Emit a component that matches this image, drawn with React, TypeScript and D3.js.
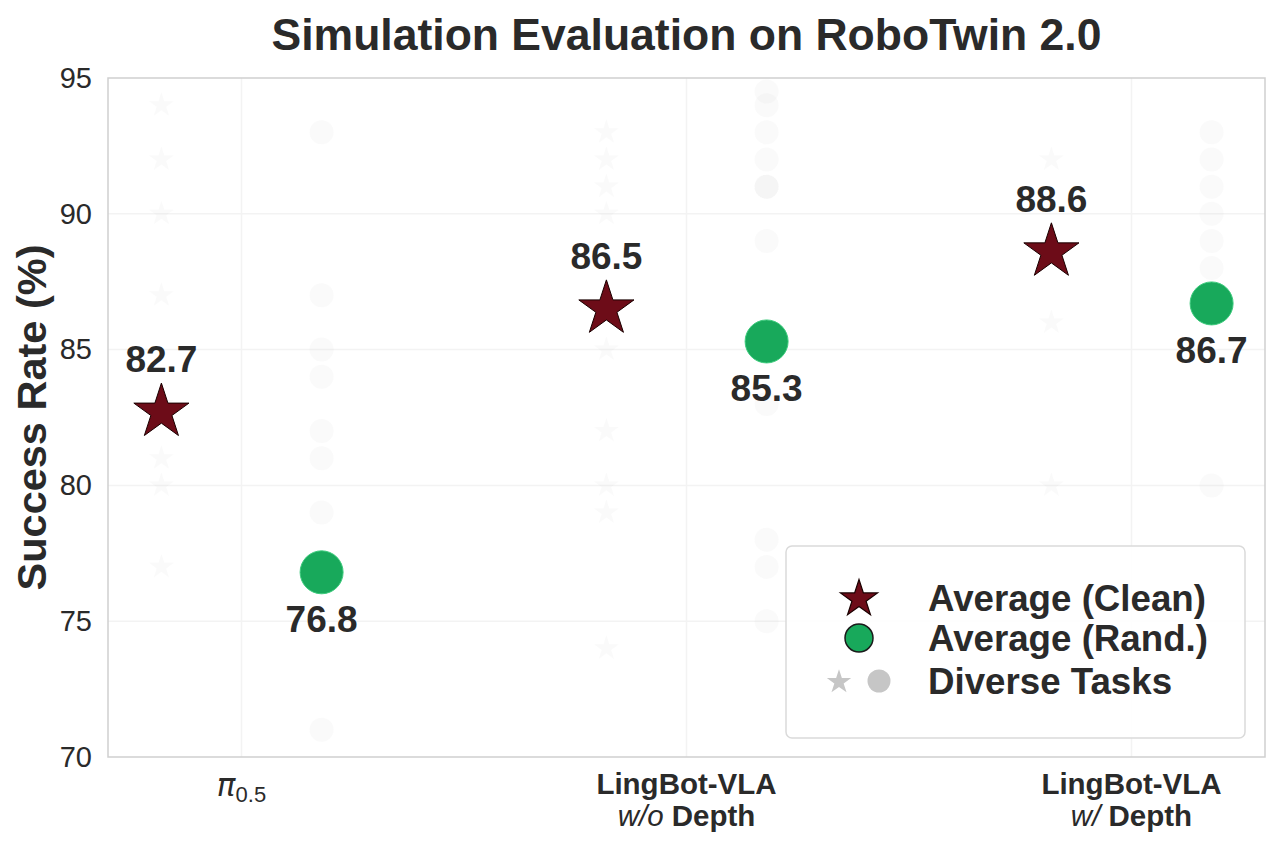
import { useRef, useEffect } from "react";
import * as d3 from "d3";

// averages per method
const methods = ["pi05", "woDepth", "wDepth"];
const cleanAvg = [82.7, 86.5, 88.6];
const randAvg = [76.8, 85.3, 86.7];

// faint per-task points (approximate)
const cleanTasks = [
    [94, 92, 90, 87, 83, 81, 80, 77],
    [93, 92, 91, 90, 85, 82, 80, 79, 74],
    [92, 86, 80],
];
const randTasks = [
    [93, 87, 85, 84, 82, 81, 79, 71],
    [94.5, 94, 93, 92, 91, 91, 89, 83, 78, 77, 75],
    [93, 92, 91, 90, 89, 88, 87, 80],
];

const yTicks = [70, 75, 80, 85, 90, 95];
const gridTicks = [75, 80, 85, 90];
const legendLabels = ["Average (Clean)", "Average (Rand.)", "Diverse Tasks"];

const W = 1280;
const H = 853;
const FONT = "'Liberation Sans', Arial, sans-serif";
const TEXT = "#2a2a2a";
const STAR = "#6d0c18";
const GREEN = "#18a95b";

function ScatterChart() {
    const svgRef = useRef<SVGSVGElement>(null);

    useEffect(() => {
        const svg = d3.select(svgRef.current);
        const left = 108, right = 1265, top = 78, bottom = 757;

        const x = d3.scaleLinear().domain([-0.3, 2.3]).range([left, right]);
        const y = d3.scaleLinear().domain([70, 95]).range([bottom, top]);
        const off = 0.18;

        const g = svg.append("g");

        // grid
        g.selectAll("line.hgrid")
            .data(gridTicks)
            .join("line")
            .attr("x1", left).attr("x2", right)
            .attr("y1", d => y(d)).attr("y2", d => y(d))
            .attr("stroke", "#f3f3f3").attr("stroke-width", 1.5);
        g.selectAll("line.vgrid")
            .data(methods)
            .join("line")
            .attr("x1", (_, i) => x(i)).attr("x2", (_, i) => x(i))
            .attr("y1", top).attr("y2", bottom)
            .attr("stroke", "#f3f3f3").attr("stroke-width", 1.5);

        // frame
        g.append("rect")
            .attr("x", left).attr("y", top)
            .attr("width", right - left).attr("height", bottom - top)
            .attr("fill", "none").attr("stroke", "#cfcfcf").attr("stroke-width", 1.5);

        // y axis
        const yAxis = g.append("g")
            .attr("transform", `translate(${left},0)`)
            .call(d3.axisLeft(y).tickValues(yTicks).tickSize(0).tickPadding(16));
        yAxis.select(".domain").remove();
        yAxis.selectAll("text")
            .attr("font-family", FONT).attr("font-size", 29).attr("fill", TEXT);

        const starPath = (r: number) => d3.symbol(d3.symbolStar, (r * r) / 0.8908130915292852)()!;

        // faint diverse-task points
        cleanTasks.forEach((vals, i) => {
            g.selectAll(null)
                .data(vals)
                .join("path")
                .attr("d", starPath(13))
                .attr("transform", d => `translate(${x(i - off)},${y(d)})`)
                .attr("fill", "#bdbdbd").attr("fill-opacity", 0.08);
        });
        randTasks.forEach((vals, i) => {
            g.selectAll(null)
                .data(vals)
                .join("circle")
                .attr("cx", x(i + off)).attr("cy", d => y(d)).attr("r", 12)
                .attr("fill", "#bdbdbd").attr("fill-opacity", 0.08);
        });

        // averages
        g.selectAll("path.avg")
            .data(cleanAvg)
            .join("path")
            .attr("d", starPath(29))
            .attr("transform", (d, i) => `translate(${x(i - off)},${y(d)})`)
            .attr("fill", STAR).attr("stroke", "#1a0000").attr("stroke-width", 1);
        g.selectAll("circle.avg")
            .data(randAvg)
            .join("circle")
            .attr("cx", (_, i) => x(i + off)).attr("cy", d => y(d)).attr("r", 21.5)
            .attr("fill", GREEN).attr("stroke", "#3ccb7c").attr("stroke-width", 1);

        // value labels
        g.selectAll("text.clean")
            .data(cleanAvg)
            .join("text")
            .attr("x", (_, i) => x(i - off)).attr("y", d => y(d) - 40)
            .attr("text-anchor", "middle")
            .attr("font-family", FONT).attr("font-weight", "bold").attr("font-size", 37)
            .attr("fill", TEXT)
            .text(d => d.toFixed(1));
        g.selectAll("text.rand")
            .data(randAvg)
            .join("text")
            .attr("x", (_, i) => x(i + off)).attr("y", d => y(d) + 60)
            .attr("text-anchor", "middle")
            .attr("font-family", FONT).attr("font-weight", "bold").attr("font-size", 37)
            .attr("fill", TEXT)
            .text(d => d.toFixed(1));

        // x tick labels
        const xl = g.append("g").attr("font-family", FONT).attr("fill", TEXT).attr("text-anchor", "middle");
        const pi = xl.append("text").attr("x", x(0)).attr("y", 796).attr("font-size", 31);
        pi.append("tspan").attr("font-style", "italic").attr("font-family", "'DejaVu Sans', sans-serif").text("π");
        pi.append("tspan").attr("font-size", 22).attr("dy", 6).text("0.5");

        [1, 2].forEach(i => {
            xl.append("text")
                .attr("x", x(i)).attr("y", 794)
                .attr("font-size", 29.5).attr("font-weight", "bold")
                .text("LingBot-VLA");
            const t = xl.append("text").attr("x", x(i)).attr("y", 826).attr("font-size", 29.5);
            t.append("tspan").attr("font-style", "italic").text(i === 1 ? "w/o" : "w/");
            t.append("tspan").attr("font-weight", "bold").text(" Depth");
        });

        // title
        svg.append("text")
            .attr("x", x(1)).attr("y", 50)
            .attr("text-anchor", "middle")
            .attr("font-family", FONT).attr("font-weight", "bold").attr("font-size", 44.5)
            .attr("fill", TEXT)
            .text("Simulation Evaluation on RoboTwin 2.0");

        // y label
        svg.append("text")
            .attr("transform", `translate(46,${(top + bottom) / 2}) rotate(-90)`)
            .attr("text-anchor", "middle")
            .attr("font-family", FONT).attr("font-weight", "bold").attr("font-size", 41.5)
            .attr("fill", TEXT)
            .text("Success Rate (%)");

        // legend
        const lg = svg.append("g").attr("transform", "translate(786,546)");
        lg.append("rect")
            .attr("width", 459).attr("height", 192).attr("rx", 6)
            .attr("fill", "white").attr("fill-opacity", 0.85)
            .attr("stroke", "#dadada").attr("stroke-width", 1.5);
        const rows = [52, 92, 135];
        lg.append("path").attr("d", starPath(19.5))
            .attr("transform", `translate(73,${rows[0] + 1})`)
            .attr("fill", STAR).attr("stroke", "#1a0000").attr("stroke-width", 1.2);
        lg.append("circle").attr("cx", 73).attr("cy", rows[1]).attr("r", 14)
            .attr("fill", GREEN).attr("stroke", "#1a1a1a").attr("stroke-width", 1.5);
        lg.append("path").attr("d", starPath(12.8))
            .attr("transform", `translate(53,${rows[2] + 1})`)
            .attr("fill", "#c6c6c6");
        lg.append("circle").attr("cx", 93).attr("cy", rows[2]).attr("r", 11.5)
            .attr("fill", "#c6c6c6");
        lg.selectAll("text")
            .data(legendLabels)
            .join("text")
            .attr("x", 142).attr("y", (_, i) => rows[i] + 13)
            .attr("font-family", FONT).attr("font-weight", "bold").attr("font-size", 36.7)
            .attr("fill", TEXT)
            .text(d => d);

        return () => {
            svg.selectAll("*").remove();
        };
    }, []);

    return (
        <svg ref={svgRef} width={W} height={H}
            style={{ position: "absolute", left: 0, top: 0, background: "white" }} />
    );
}

export default function App() {
    return <ScatterChart />;
}
